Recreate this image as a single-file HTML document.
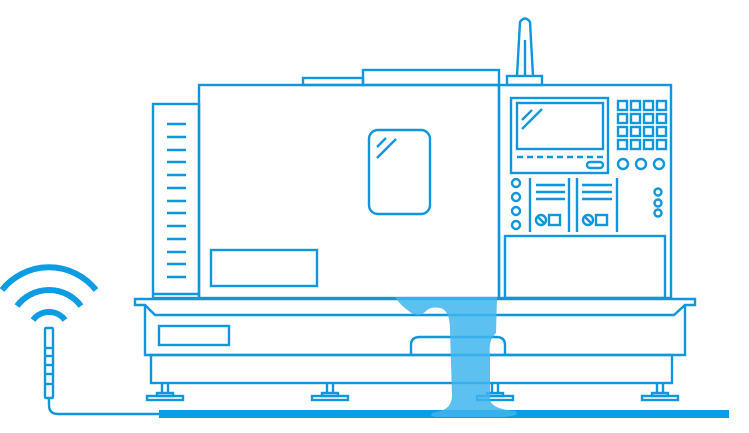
<!DOCTYPE html>
<html><head><meta charset="utf-8"><style>html,body{margin:0;padding:0;background:#fff}svg{display:block}</style></head>
<body>
<svg width="749" height="433" viewBox="0 0 749 433" xmlns="http://www.w3.org/2000/svg">
<g fill="none" stroke="#0f96dc" stroke-width="2.4">
<!-- antenna -->
<rect x="507" y="76" width="35" height="9"/>
<path d="M517,76 L520,22 Q525,15 530,22 L533,76"/>
<line x1="525" y1="40" x2="525" y2="76"/>
<!-- top bumps -->
<rect x="303" y="78" width="60" height="7"/>
<rect x="363" y="70" width="136" height="15"/>
<!-- left panel -->
<rect x="153" y="104" width="46" height="194"/>
<line x1="153" y1="294" x2="199" y2="294"/>
<!-- main box -->
<rect x="199" y="85" width="300" height="213"/>
<rect x="369" y="130" width="61" height="84" rx="9"/>
<line x1="377" y1="147" x2="386" y2="138"/>
<line x1="377" y1="158" x2="396" y2="139"/>
<rect x="211" y="250" width="106" height="36"/>
<!-- control panel -->
<rect x="499" y="85" width="172" height="213"/>
<rect x="511" y="98" width="97" height="75"/>
<rect x="517" y="103" width="86" height="46"/>
<line x1="522" y1="120" x2="532" y2="110"/>
<line x1="522" y1="129" x2="542" y2="109"/>
<line x1="517" y1="157" x2="603" y2="157" stroke-dasharray="6,4"/>
<rect x="587" y="162" width="16" height="6" rx="3"/>
<rect x="505" y="236" width="160" height="62"/>
<line x1="530" y1="178" x2="530" y2="232"/>
<line x1="569" y1="178" x2="569" y2="232"/>
<line x1="577" y1="178" x2="577" y2="232"/>
<line x1="617" y1="178" x2="617" y2="232"/>
<line x1="536" y1="185" x2="565" y2="185"/><line x1="536" y1="192" x2="565" y2="192"/><line x1="536" y1="199" x2="565" y2="199"/>
<line x1="582" y1="185" x2="612" y2="185"/><line x1="582" y1="192" x2="612" y2="192"/><line x1="582" y1="199" x2="612" y2="199"/>
<circle cx="541" cy="220" r="5"/><line x1="537" y1="216" x2="545" y2="224"/><rect x="549" y="215" width="11" height="10"/>
<circle cx="588" cy="220" r="5"/><line x1="584" y1="216" x2="592" y2="224"/><rect x="596" y="215" width="11" height="10"/>
<circle cx="516" cy="183" r="4"/><circle cx="516" cy="197" r="4"/><circle cx="516" cy="211" r="4"/><circle cx="516" cy="225" r="4"/>
<circle cx="658" cy="192" r="3.5"/><circle cx="658" cy="203" r="3.5"/><circle cx="658" cy="213" r="3.5"/>
<circle cx="623" cy="164" r="5"/><circle cx="641" cy="164" r="5"/><circle cx="659" cy="164" r="5"/>
<!-- base -->
<path d="M135,299 L695,299 L695,305 L685,305 L674,315 L155,315 L145,305 L135,305 Z"/>
<path d="M145,305 L145,355 L685,355 L685,305"/>
<rect x="159" y="326" width="70" height="19"/>
<path d="M411,355 L411,345 Q411,337 420,337 L496,337 Q505,337 505,345 L505,355"/>
<rect x="151" y="355" width="521" height="28"/>
<g>
<path d="M162,383 V393 M168,383 V393"/><rect x="147" y="396" width="36" height="4"/><rect x="157" y="393" width="16" height="3"/>
<path d="M327,383 V393 M333,383 V393"/><rect x="312" y="396" width="36" height="4"/><rect x="322" y="393" width="16" height="3"/>
<path d="M492,383 V393 M498,383 V393"/><rect x="477" y="396" width="36" height="4"/><rect x="487" y="393" width="16" height="3"/>
<path d="M657,383 V393 M663,383 V393"/><rect x="642" y="396" width="36" height="4"/><rect x="652" y="393" width="16" height="3"/>
</g>
<!-- sensor -->
<rect x="45" y="328" width="8" height="70" rx="1"/>
<path d="M49,398 L49,405 Q49,414 58,414 L159,414"/>
</g>
<g stroke="#0f96dc" stroke-width="2.4">
<line x1="167" y1="124" x2="186" y2="124"/><line x1="167" y1="137" x2="186" y2="137"/><line x1="167" y1="150" x2="186" y2="150"/><line x1="167" y1="162" x2="186" y2="162"/><line x1="167" y1="175" x2="186" y2="175"/><line x1="167" y1="188" x2="186" y2="188"/><line x1="167" y1="201" x2="186" y2="201"/><line x1="167" y1="213" x2="186" y2="213"/><line x1="167" y1="226" x2="186" y2="226"/><line x1="167" y1="239" x2="186" y2="239"/><line x1="167" y1="252" x2="186" y2="252"/><line x1="167" y1="264" x2="186" y2="264"/><line x1="167" y1="277" x2="186" y2="277"/>
<line x1="45" y1="348" x2="53" y2="348"/><line x1="45" y1="356" x2="53" y2="356"/><line x1="45" y1="365" x2="53" y2="365"/><line x1="45" y1="374" x2="53" y2="374"/><line x1="45" y1="384" x2="53" y2="384"/>
</g>
<g fill="none" stroke="#0f96dc" stroke-width="2.4">
<rect x="618" y="101" width="9" height="9"/><rect x="631" y="101" width="9" height="9"/><rect x="644" y="101" width="9" height="9"/><rect x="657" y="101" width="9" height="9"/>
<rect x="618" y="114" width="9" height="9"/><rect x="631" y="114" width="9" height="9"/><rect x="644" y="114" width="9" height="9"/><rect x="657" y="114" width="9" height="9"/>
<rect x="618" y="127" width="9" height="9"/><rect x="631" y="127" width="9" height="9"/><rect x="644" y="127" width="9" height="9"/><rect x="657" y="127" width="9" height="9"/>
<rect x="618" y="140" width="9" height="9"/><rect x="631" y="140" width="9" height="9"/><rect x="644" y="140" width="9" height="9"/><rect x="657" y="140" width="9" height="9"/>
</g>
<!-- wifi -->
<g fill="none" stroke="#0c9ce3" stroke-width="6">
<path d="M33,320 A20,20 0 0 1 65,320"/>
<path d="M17,306 A40,40 0 0 1 81,306"/>
<path d="M2,290 A60,60 0 0 1 96,290"/>
</g>
<!-- floor -->
<rect x="159" y="410" width="570" height="8" fill="#0c9ce3"/>
<!-- spill -->
<path d="M395,297 L497,297 L496,333 Q488,340 490,355 L490,400 Q492,409 515,411 Q522,415 505,417 L435,417 Q425,414 440,411 Q452,408 452,395 L450,330 Q450,310 440,308 Q430,306 425,312 Q418,318 410,312 Q400,305 395,297 Z" fill="#3fb5ee" fill-opacity="0.85"/>
</svg>
</body></html>
